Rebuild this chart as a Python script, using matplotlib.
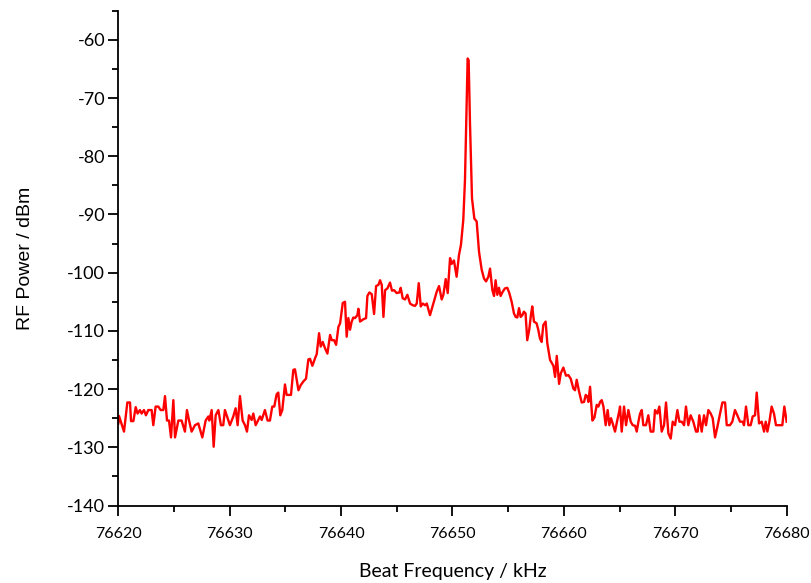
import matplotlib.pyplot as plt
from matplotlib.ticker import MultipleLocator

# beat note spectrum
freq_khz = [
    76620.00, 76620.06, 76620.51, 76620.81, 76621.05, 76621.14, 76621.35, 76621.56, 76621.73, 76621.94,
    76622.09, 76622.30, 76622.48, 76622.69, 76622.99, 76623.14, 76623.35, 76623.59, 76623.80, 76624.04,
    76624.19, 76624.37, 76624.55, 76624.73, 76624.94, 76625.09, 76625.39, 76625.68, 76625.98, 76626.16,
    76626.34, 76626.58, 76626.88, 76627.18, 76627.54, 76627.84, 76628.08, 76628.17, 76628.38, 76628.56,
    76628.74, 76628.98, 76629.21, 76629.42, 76629.57, 76630.02, 76630.32, 76630.53, 76630.71, 76630.92,
    76631.16, 76631.37, 76631.55, 76631.73, 76631.97, 76632.12, 76632.33, 76632.57, 76632.72, 76632.87,
    76633.16, 76633.40, 76633.61, 76633.82, 76634.00, 76634.21, 76634.36, 76634.54, 76634.72, 76634.96,
    76635.11, 76635.50, 76635.71, 76635.86,
    76636.17, 76636.38, 76636.61, 76636.85, 76637.06, 76637.21, 76637.42, 76637.66, 76637.81, 76638.02,
    76638.17, 76638.35, 76638.56, 76638.77, 76639.01, 76639.16, 76639.37, 76639.55, 76639.76, 76639.91,
    76640.15, 76640.35, 76640.50, 76640.65, 76640.80, 76640.95, 76641.10, 76641.25, 76641.46, 76641.55,
    76641.70, 76642.00, 76642.24, 76642.36, 76642.54, 76642.75, 76642.96, 76643.14, 76643.35, 76643.50,
    76643.65, 76643.80, 76643.95, 76644.16, 76644.39, 76644.57, 76644.75, 76644.99, 76645.23, 76645.35,
    76645.53, 76645.74, 76645.95, 76646.19, 76646.43, 76646.64, 76646.79, 76646.97, 76647.15, 76647.33,
    76647.54, 76647.69,
    76647.98, 76648.28, 76648.58, 76648.79, 76649.03, 76649.18, 76649.39, 76649.57, 76649.78, 76649.92,
    76650.13, 76650.37, 76650.58, 76650.76, 76650.97, 76651.12, 76651.27, 76651.36, 76651.45, 76651.57,
    76651.75, 76651.96, 76652.17, 76652.38, 76652.62, 76652.83, 76653.01, 76653.22, 76653.37, 76653.58,
    76653.73, 76653.87, 76654.02, 76654.17, 76654.32, 76654.50, 76654.71, 76654.92, 76655.10, 76655.31,
    76655.52, 76655.67, 76655.82, 76655.97, 76656.12, 76656.27, 76656.41, 76656.56, 76656.71, 76656.89,
    76657.04, 76657.16, 76657.31, 76657.55, 76657.70, 76657.85, 76658.00, 76658.15, 76658.36, 76658.51,
    76658.76, 76659.06, 76659.21, 76659.36, 76659.57, 76659.72, 76659.95, 76660.19, 76660.40, 76660.61,
    76660.85, 76661.00, 76661.15, 76661.36, 76661.60, 76661.81, 76661.96, 76662.11, 76662.20, 76662.35,
    76662.56, 76662.74, 76662.95, 76663.10, 76663.25, 76663.40, 76663.55, 76663.75, 76663.93, 76664.08,
    76664.23, 76664.38, 76664.59, 76664.80, 76664.98,
    76665.04, 76665.19, 76665.40, 76665.58, 76665.79, 76666.00, 76666.18, 76666.39, 76666.54, 76666.69,
    76666.84, 76666.99, 76667.13, 76667.37, 76667.58, 76667.79, 76668.03, 76668.18, 76668.39, 76668.57,
    76668.78, 76668.99, 76669.17, 76669.38, 76669.59, 76669.77, 76669.98, 76670.19, 76670.37, 76670.58,
    76670.79, 76670.96, 76671.17, 76671.38, 76671.62, 76671.86, 76672.01, 76672.16, 76672.37, 76672.58,
    76672.76, 76672.97, 76673.18, 76673.36, 76673.57, 76673.78, 76674.02, 76674.23, 76674.47, 76674.62,
    76674.91, 76675.12, 76675.36, 76675.57, 76675.81, 76676.05, 76676.17, 76676.35, 76676.56, 76676.77,
    76676.95, 76677.16, 76677.31, 76677.52, 76677.76, 76677.97, 76678.12, 76678.27, 76678.45, 76678.65,
    76678.86, 76679.04, 76679.34, 76679.61, 76679.79, 76680.00,
]

power_dbm = [
    -125.9, -124.6, -127.3, -122.3, -122.3, -125.5, -125.5, -123.1, -124.2, -123.6,
    -124.2, -123.6, -124.5, -123.6, -123.6, -126.2, -123.0, -123.0, -123.6, -123.6,
    -121.2, -125.4, -125.4, -128.3, -121.9, -128.3, -125.4, -125.4, -127.3, -123.6,
    -125.3, -127.3, -126.2, -125.9, -128.3, -125.4, -124.7, -125.4, -123.6, -129.9,
    -124.5, -123.6, -126.2, -126.2, -123.6, -126.2, -124.7, -123.3, -126.2, -121.2,
    -125.4, -126.2, -127.3, -124.5, -125.3, -124.2, -126.2, -125.3, -124.7, -125.3,
    -123.6, -125.4, -125.4, -123.0, -123.0, -120.9, -120.6, -124.5, -123.6, -119.2,
    -121.0, -121.0, -116.7, -116.6,
    -120.2, -119.3, -118.7, -118.2, -114.9, -114.8, -116.0, -114.7, -114.0, -110.4,
    -112.7, -111.9, -113.0, -113.9, -110.7, -111.6, -111.6, -112.4, -109.3, -108.7,
    -105.2, -105.0, -111.0, -107.8, -109.8, -108.4, -107.7, -107.8, -107.3, -106.2,
    -108.4, -108.0, -107.8, -104.0, -103.4, -103.7, -107.1, -102.3, -102.1, -101.3,
    -102.1, -107.6, -103.0, -102.7, -101.7, -103.1, -103.0, -103.5, -103.4, -102.6,
    -104.4, -104.6, -103.8, -105.3, -105.6, -105.7, -105.3, -101.8, -105.8, -105.3,
    -105.6, -105.3,
    -107.3, -105.3, -103.3, -102.3, -104.6, -103.8, -101.1, -103.5, -97.5, -98.5,
    -97.9, -100.7, -97.0, -95.2, -90.9, -84.1, -71.5, -63.2, -63.5, -74.3,
    -87.2, -90.7, -91.2, -96.4, -99.5, -101.0, -101.5, -100.7, -99.3, -103.0,
    -104.0, -101.3, -103.8, -102.6, -104.0, -103.3, -102.7, -102.6, -103.5, -105.0,
    -107.0, -107.6, -107.7, -106.1, -107.6, -107.3, -106.7, -107.0, -111.6, -109.8,
    -107.3, -105.8, -108.4, -108.7, -109.8, -111.3, -111.9, -109.0, -108.4, -112.1,
    -115.0, -116.0, -117.9, -114.3, -119.1, -117.3, -116.3, -117.7, -117.6, -118.2,
    -119.9, -120.2, -118.4, -120.4, -122.3, -122.2, -121.0, -121.3, -122.2, -119.6,
    -125.4, -124.9, -122.7, -123.0, -122.2, -121.9, -123.0, -126.2, -123.6, -126.2,
    -125.0, -125.9, -127.3, -125.3, -123.7,
    -123.0, -127.3, -123.0, -126.2, -123.6, -125.6, -126.2, -126.3, -127.3, -125.6,
    -124.2, -123.6, -126.2, -126.2, -124.5, -127.3, -127.3, -123.6, -124.2, -123.0,
    -127.3, -126.2, -122.3, -127.6, -128.5, -125.6, -126.2, -123.6, -125.6, -125.6,
    -126.2, -123.0, -126.2, -124.5, -125.6, -127.3, -127.3, -124.5, -127.3, -124.5,
    -126.2, -123.6, -124.2, -125.0, -128.3, -126.5, -124.2, -122.3, -122.3, -126.2,
    -126.2, -125.6, -123.6, -124.5, -125.6, -125.6, -126.2, -123.0, -126.2, -126.2,
    -124.7, -124.5, -120.6, -125.9, -125.6, -127.3, -125.6, -127.3, -125.6, -123.0,
    -124.2, -126.2, -126.2, -126.2, -123.0, -125.6,
]

plt.rcParams["axes.unicode_minus"] = False

fig = plt.figure(figsize=(8.11, 5.83), dpi=100)
ax = fig.add_axes([0.1459, 0.1329, 0.8241, 0.8487])

ax.plot(freq_khz, power_dbm, color="#ff0000", lw=1.7)

ax.set_xlim(76620, 76680)
ax.set_ylim(-140, -55)
ax.xaxis.set_major_locator(MultipleLocator(10))
ax.xaxis.set_minor_locator(MultipleLocator(5))
ax.yaxis.set_minor_locator(MultipleLocator(5))
ax.set_yticks(range(-140, -55, 10))

for side in ["top", "right"]:
    ax.spines[side].set_visible(False)
for side in ["left", "bottom"]:
    ax.spines[side].set_linewidth(1.3)

ax.tick_params(which="major", direction="out", length=7.5, width=1.3, labelsize=13, pad=2)
ax.tick_params(which="minor", direction="out", length=4, width=1.3)
ax.tick_params(axis="x", which="major", pad=8, labelsize=11.5)
for lab in ax.get_xticklabels() + ax.get_yticklabels():
    lab.set_family(["Lato", "DejaVu Sans"])

ax.set_xlabel("Beat Frequency / kHz", fontsize=14, family=["Lato", "DejaVu Sans"], labelpad=16)
ax.set_ylabel("RF Power / dBm", fontsize=14, family=["Liberation Sans", "DejaVu Sans"], labelpad=24)

fig.savefig("out.png", dpi=100)
